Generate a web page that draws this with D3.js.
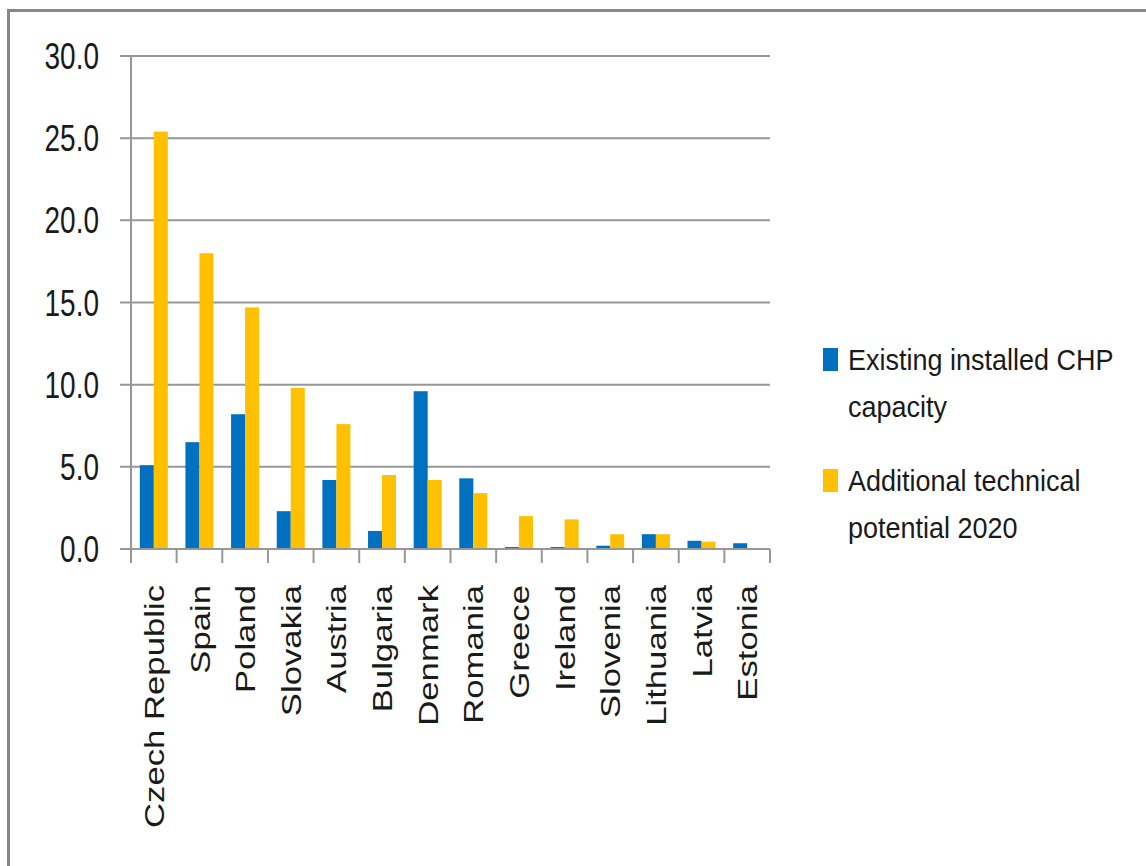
<!DOCTYPE html>
<html>
<head>
<meta charset="utf-8">
<script src="https://cdn.jsdelivr.net/npm/d3@7"></script>
<style>
  html, body { margin: 0; padding: 0; background: #fff; }
  svg { display: block; }
  text { font-family: "Liberation Sans", Arial, sans-serif; fill: #1a1a1a; }
</style>
</head>
<body>
<svg id="chart" width="1146" height="866"></svg>
<script>
// CHP capacity by country (GW)
const countries = ["Czech Republic", "Spain", "Poland", "Slovakia", "Austria", "Bulgaria",
  "Denmark", "Romania", "Greece", "Ireland", "Slovenia", "Lithuania", "Latvia", "Estonia"];
const existingCapacity = [5.1, 6.5, 8.2, 2.3, 4.2, 1.1, 9.6, 4.3, 0.12, 0.12, 0.2, 0.9, 0.5, 0.35];
const additionalPotential = [25.4, 18.0, 14.7, 9.8, 7.6, 4.5, 4.2, 3.4, 2.0, 1.8, 0.9, 0.9, 0.45, 0];
const seriesNames = ["Existing installed CHP capacity", "Additional technical potential 2020"];
const seriesColors = ["#0070C0", "#FFC000"];
const yTicks = [0, 5, 10, 15, 20, 25, 30];
const legendLines = [["Existing installed CHP", "capacity"], ["Additional technical", "potential 2020"]];

const svg = d3.select("#chart");

// outer frame
svg.append("path")
  .attr("d", "M8.5,866 L8.5,10.5 L1146,10.5")
  .attr("fill", "none").attr("stroke", "#878787").attr("stroke-width", 3);

const plot = { left: 131, right: 770, top: 56, bottom: 549 };

const x0 = d3.scaleBand().domain(countries)
  .range([plot.left, plot.right])
  .paddingInner(0.386).paddingOuter(0.193);
const x1 = d3.scaleBand().domain(d3.range(2)).range([0, x0.bandwidth()]);
const y = d3.scaleLinear().domain([0, 30]).range([plot.bottom, plot.top]);

const gridColor = "#979797";

// horizontal gridlines with left tick marks
svg.append("g").selectAll("line").data(yTicks.filter(d => d > 0)).join("line")
  .attr("x1", 120).attr("x2", plot.right)
  .attr("y1", d => y(d)).attr("y2", d => y(d))
  .attr("stroke", gridColor).attr("stroke-width", 2);

// y tick labels
svg.append("g").selectAll("text").data(yTicks).join("text")
  .attr("transform", d => `translate(99,${y(d)}) scale(1,1.3)`)
  .attr("text-anchor", "end").attr("dy", "0.36em")
  .attr("font-size", 28)
  .text(d => d3.format(".1f")(d));

// bars
const groups = svg.append("g").selectAll("g").data(countries).join("g")
  .attr("transform", d => `translate(${x0(d)},0)`);
groups.selectAll("rect")
  .data((d, i) => [existingCapacity[i], additionalPotential[i]].map((v, s) => ({ v, s })))
  .join("rect")
  .attr("x", d => x1(d.s))
  .attr("width", x1.bandwidth())
  .attr("y", d => y(d.v))
  .attr("height", d => y(0) - y(d.v))
  .attr("fill", d => seriesColors[d.s]);

// axes lines
svg.append("line").attr("x1", plot.left).attr("x2", plot.left)
  .attr("y1", plot.top).attr("y2", plot.bottom)
  .attr("stroke", gridColor).attr("stroke-width", 2);
svg.append("line").attr("x1", 120).attr("x2", plot.right)
  .attr("y1", y(0)).attr("y2", y(0))
  .attr("stroke", gridColor).attr("stroke-width", 2);

// x tick marks at category boundaries
const boundaries = countries.map(c => x0(c) - x0.step() * x0.paddingInner() / 2).concat([plot.right]);
svg.append("g").selectAll("line").data(boundaries).join("line")
  .attr("x1", d => d).attr("x2", d => d)
  .attr("y1", y(0)).attr("y2", y(0) + 14)
  .attr("stroke", gridColor).attr("stroke-width", 2);

// rotated category labels
svg.append("g").selectAll("text").data(countries).join("text")
  .attr("transform", d => `translate(${x0(d) + x0.bandwidth() / 2},585) scale(1,1.24) rotate(-90)`)
  .attr("text-anchor", "end").attr("dy", "0.36em")
  .attr("font-size", 28)
  .text(d => d);

// legend
const legend = svg.append("g");
seriesNames.forEach((name, i) => {
  const top = i === 0 ? 348 : 469;
  legend.append("rect")
    .attr("x", 823).attr("y", top).attr("width", 15).attr("height", 23)
    .attr("fill", seriesColors[i]);
  legendLines[i].forEach((line, j) => {
    legend.append("text")
      .attr("transform", `translate(848,${top + 22 + j * 47}) scale(1,1.12)`)
      .attr("font-size", 27)
      .text(line);
  });
});
</script>
</body>
</html>
